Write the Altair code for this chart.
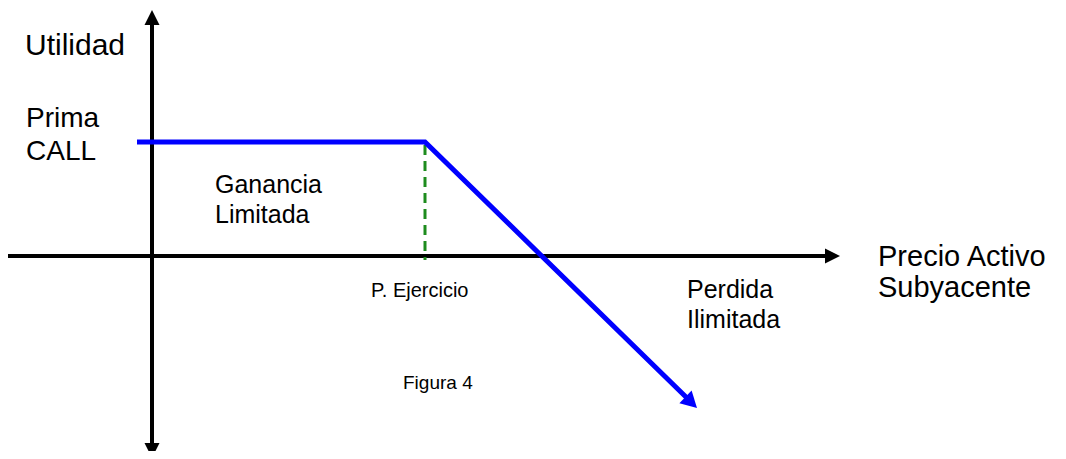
import altair as alt
import pandas as pd

# Units: pixels measured from the axes origin (right / up positive)
payoff_x = [-15, 273, 535]
payoff_y = [114, 114, -142]
payoff_tip_x = [545]
payoff_tip_y = [-152]

strike = 273
dash_y = [111, -4]

h_axis_x = [-144, 676]
h_axis_tip_x = [688]
v_axis_y = [-190, 234]
v_axis_tip_top = [246]
v_axis_tip_bottom = [-202]

labels = ["Utilidad", "Prima", "CALL", "Ganancia", "Limitada", "P. Ejercicio",
          "Figura 4", "Precio Activo", "Subyacente", "Perdida", "Ilimitada"]
label_x = [-127, -126, -126, 63, 63, 219, 251, 726, 726, 535, 535]
label_y = [201, 129, 96, 63, 33, -41, -133, -10, -41, -42, -72]
label_size = [30, 28, 28, 25, 25, 20, 19, 29, 29, 25, 25]

XS = alt.Scale(domain=[-144, 906], nice=False, zero=False)
YS = alt.Scale(domain=[-195, 248], nice=False, zero=False)


def X(f="x"):
    return alt.X(f"{f}:Q", scale=XS, axis=None)


def Y(f="y"):
    return alt.Y(f"{f}:Q", scale=YS, axis=None)


ARROW = "M0,0L-1,-0.5L-1,0.5Z"
ARROW_WIDE = "M0,0L-1,-0.55L-1,0.55Z"

# horizontal axis
h_axis = alt.Chart(pd.DataFrame({"x": h_axis_x, "y": [0, 0]})).mark_line(
    color="black", strokeWidth=4, strokeCap="butt"
).encode(x=X(), y=Y())
h_tip = alt.Chart(pd.DataFrame({"x": h_axis_tip_x, "y": [0]})).mark_point(
    shape=ARROW, filled=True, size=900, opacity=1, color="black", strokeWidth=0
).encode(x=X(), y=Y())

# vertical axis
v_axis = alt.Chart(pd.DataFrame({"x": [0, 0], "y": v_axis_y})).mark_line(
    color="black", strokeWidth=4, strokeCap="butt"
).encode(x=X(), y=Y())
v_tip_top = alt.Chart(pd.DataFrame({"x": [0], "y": v_axis_tip_top})).mark_point(
    shape=ARROW, filled=True, size=900, opacity=1, color="black", strokeWidth=0, angle=270
).encode(x=X(), y=Y())
v_tip_bot = alt.Chart(pd.DataFrame({"x": [0], "y": v_axis_tip_bottom})).mark_point(
    shape=ARROW, filled=True, size=900, opacity=1, color="black", strokeWidth=0, angle=90
).encode(x=X(), y=Y())

# strike dashed line
dash = alt.Chart(pd.DataFrame({"x": [strike, strike], "y": dash_y})).mark_line(
    color="#1e8c1e", strokeWidth=3, strokeDash=[10, 6], strokeCap="butt"
).encode(x=X(), y=Y())

# payoff line
payoff = alt.Chart(pd.DataFrame({"x": payoff_x, "y": payoff_y})).mark_line(
    color="#0000ff", strokeWidth=5, strokeCap="butt", strokeJoin="miter"
).encode(x=X(), y=Y())
payoff_tip = alt.Chart(pd.DataFrame({"x": payoff_tip_x, "y": payoff_tip_y})).mark_point(
    shape=ARROW_WIDE, filled=True, size=1024, opacity=1, color="#0000ff", strokeWidth=0, angle=44
).encode(x=X(), y=Y())

texts = alt.Chart(pd.DataFrame({"label": labels, "x": label_x, "y": label_y, "size": label_size})).mark_text(
    align="left", baseline="alphabetic", font="Liberation Sans", color="black"
).encode(x=X(), y=Y(), text="label:N", size=alt.Size("size:Q", scale=None, legend=None))

chart = alt.layer(
    h_axis, h_tip, v_axis, v_tip_top, v_tip_bot, dash, payoff, payoff_tip, texts
).properties(
    width=1050, height=443, padding=0,
    autosize=alt.AutoSizeParams(type="none"),
).configure_view(strokeWidth=0)

chart.save("out.html", embed_options={"renderer": "svg", "actions": False})
